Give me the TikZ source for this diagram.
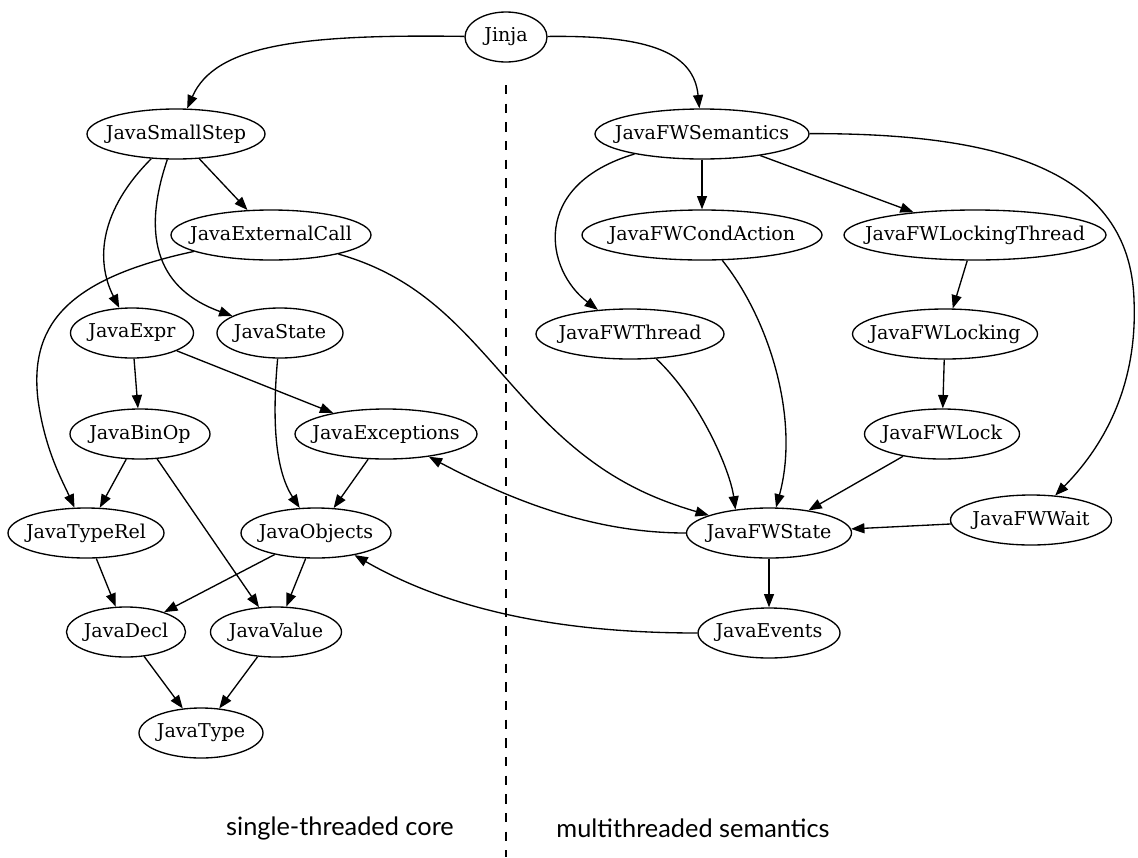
\documentclass[tikz,border=0pt]{standalone}
\usepackage{fontspec}
\setmainfont{DejaVu Serif}
\newfontfamily\sidefont{Lato}
\usetikzlibrary{shapes.geometric,arrows.meta}

\begin{document}
\begin{tikzpicture}[x=0.75pt, y=-0.75pt,
  mod/.style={draw, ellipse, inner xsep=-25pt, inner ysep=0pt, minimum height=37.5pt, font=\fontsize{14.3}{16}\selectfont},
  wd/.style={minimum width=#1*0.75pt},
  side/.style={font=\sidefont\fontsize{19}{22}\selectfont},
  line width=1pt, >={Triangle[length=10pt,width=7.5pt]}
]
\useasboundingbox (0,0) rectangle (1138,857);

\node[mod, wd=82]  (jinja)     at (506,37)  {Jinja};
\node[mod, wd=178] (smallstep) at (176,134) {JavaSmallStep};
\node[mod, wd=200] (extcall)   at (271,235) {JavaExternalCall};
\node[mod, wd=123] (expr)      at (132,333) {JavaExpr};
\node[mod, wd=126] (state)     at (280,333) {JavaState};
\node[mod, wd=140] (binop)     at (140,434) {JavaBinOp};
\node[mod, wd=182] (exc)       at (386,434) {JavaExceptions};
\node[mod, wd=156] (typerel)   at (86,533)  {JavaTypeRel};
\node[mod, wd=150] (objects)   at (316,533) {JavaObjects};
\node[mod, wd=119] (decl)      at (126,632) {JavaDecl};
\node[mod, wd=131] (value)     at (276,632) {JavaValue};
\node[mod, wd=124] (type)      at (201,733) {JavaType};

\node[mod, wd=214] (fwsem)     at (702,134) {JavaFWSemantics};
\node[mod, wd=240] (fwcond)    at (702,235) {JavaFWCondAction};
\node[mod, wd=262] (fwlockthr) at (975,235) {JavaFWLockingThread};
\node[mod, wd=188] (fwthread)  at (630,334) {JavaFWThread};
\node[mod, wd=185] (fwlocking) at (945,334) {JavaFWLocking};
\node[mod, wd=155] (fwlock)    at (942,434) {JavaFWLock};
\node[mod, wd=165] (fwstate)   at (769,533) {JavaFWState};
\node[mod, wd=161] (fwwait)    at (1031,520) {JavaFWWait};
\node[mod, wd=142] (events)    at (769,633) {JavaEvents};

\node[side] (single) at (340,828) {single-threaded core};
\node[side] (multi)  at (693,828) {multithreaded semantics};
\draw[line width=0.8pt, dash pattern=on 7pt off 7pt] (506,85) -- (506,857);

\draw[->] (jinja) .. controls (300,34) and (215,45) .. (smallstep);
\draw[->] (jinja) .. controls (655,35) and (694,55) .. (fwsem);
\draw[->] (smallstep) -- (extcall);
\draw[->] (smallstep) .. controls (100,210) and (95,260) .. (expr);
\draw[->] (smallstep) .. controls (140,240) and (160,290) .. (state);
\draw[->] (extcall) .. controls (60,280) and (30,330) .. (38,400) .. controls (45,450) and (62,480) .. (typerel);
\draw[->] (extcall) .. controls (430,280) and (470,340) .. (530,405) .. controls (590,470) and (640,495) .. (fwstate);
\draw[->] (expr) -- (binop); \draw[->] (expr) -- (exc);
\draw[->] (state) .. controls (272,420) and (275,470) .. (objects);
\draw[->] (binop) -- (typerel); \draw[->] (binop) -- (value);
\draw[->] (exc) -- (objects);
\draw[->] (typerel) -- (decl); \draw[->] (objects) -- (decl); \draw[->] (objects) -- (value);
\draw[->] (decl) -- (type); \draw[->] (value) -- (type);
\draw[->] (fwstate) .. controls (600,533) and (520,505) .. (exc);
\draw[->] (events) .. controls (560,633) and (450,610) .. (objects);

\draw[->] (fwsem) -- (fwcond); \draw[->] (fwsem) -- (fwlockthr);
\draw[->] (fwsem) .. controls (530,185) and (545,270) .. (fwthread);
\draw[->] (fwsem) .. controls (1000,133) and (1130,170) .. (1134,300) .. controls (1138,390) and (1100,450) .. (fwwait);
\draw[->] (fwlockthr) -- (fwlocking); \draw[->] (fwlocking) -- (fwlock);
\draw[->] (fwlock) -- (fwstate);
\draw[->] (fwcond) .. controls (770,320) and (800,420) .. (fwstate);
\draw[->] (fwthread) .. controls (700,400) and (730,470) .. (fwstate.145);
\draw[->] (fwwait) -- (fwstate); \draw[->] (fwstate) -- (events);
\end{tikzpicture}
\end{document}
